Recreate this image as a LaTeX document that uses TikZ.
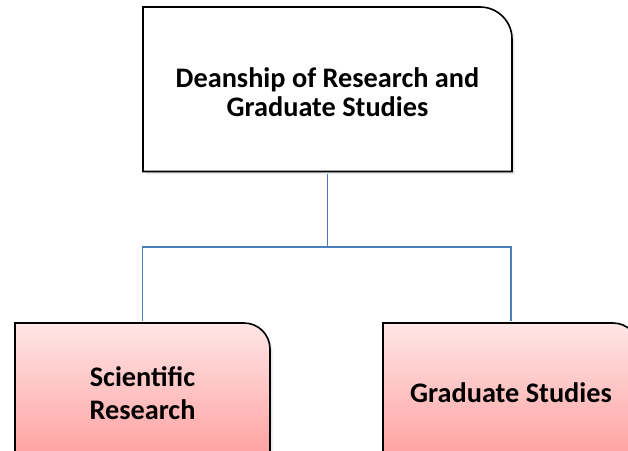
\documentclass[tikz,border=0pt]{standalone}
\usepackage{fontspec}
\setmainfont{Carlito}
\usepackage{tikz}
\usetikzlibrary{positioning,shadows}
\definecolor{LinkBlue}{HTML}{4A7EBB}
\definecolor{PinkTop}{HTML}{FFE6E6}
\definecolor{PinkBottom}{HTML}{FF9C9C}

\begin{document}
\begin{tikzpicture}[
      x=1pt, y=1pt,
      every node/.style={align=center, font=\bfseries\fontsize{28.3}{29}\selectfont, outer sep=0pt},
      unit/.style={minimum width=#1, inner sep=0pt},
      frame/.style={draw=black, line width=1.6pt, drop shadow={shadow xshift=2.5pt, shadow yshift=-2.5pt, opacity=0.18}},
      pinkfill/.style={top color=PinkTop, bottom color=PinkBottom},
      link/.style={draw=LinkBlue, line width=1.8pt}
    ]
      \useasboundingbox (0,0) rectangle (628,-450);
      % frames first, text on top
      \coordinate (deanNW) at (143,-7);   \coordinate (deanSE) at (512,-171.5);
      \coordinate (sciNW) at (15,-323);   \coordinate (sciSE) at (270,-467);
      \coordinate (gradNW) at (383,-323); \coordinate (gradSE) at (639,-467);
      \path[frame, fill=white] (deanNW |- deanSE) -- (deanNW) [rounded corners=32pt] -- (deanSE |- deanNW) [sharp corners] -- (deanSE) -- cycle;
      \path[frame, pinkfill] (sciNW |- sciSE) -- (sciNW) [rounded corners=26pt] -- (sciSE |- sciNW) [sharp corners] -- (sciSE) -- cycle;
      \path[frame, pinkfill] (gradNW |- gradSE) -- (gradNW) [rounded corners=26pt] -- (gradSE |- gradNW) [sharp corners] -- (gradSE) -- cycle;
      % Labels
      \node[unit=369pt, minimum height=164.5pt] (dean) at (327.5,-92) {Deanship of Research and\\Graduate Studies};
      \node[unit=255pt, minimum height=144pt, font=\bfseries\fontsize{28.3}{33}\selectfont] (sci) at (142.5,-393) {Scientific\\Research};
      \node[unit=256pt, minimum height=144pt] (grad) at (511,-393) {Graduate Studies};
      % connectors
      \draw[link] (dean.south) -- ++(0,-73) coordinate (fork);
      \draw[link] (fork) -| (sci.north);
      \draw[link] (fork) -| (grad.north);
\end{tikzpicture}
\end{document}
